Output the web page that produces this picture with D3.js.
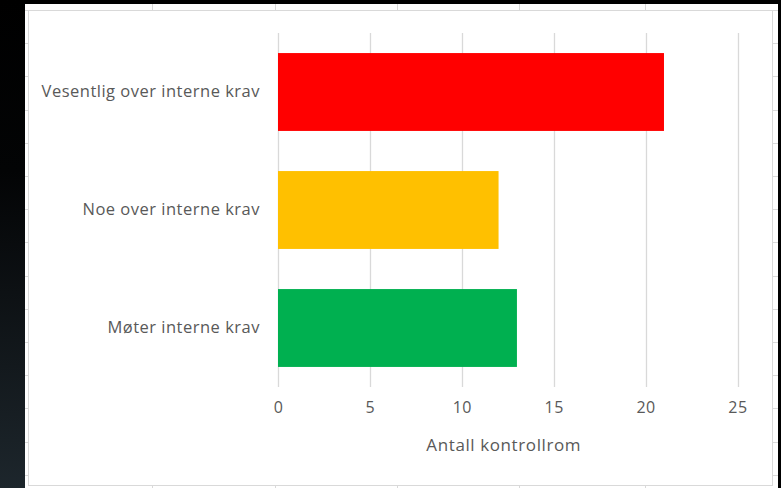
<!DOCTYPE html>
<html>
<head>
<meta charset="utf-8">
<script src="https://cdn.jsdelivr.net/npm/d3@7"></script>
<style>
  html, body { margin: 0; padding: 0; background: #000; }
  svg { display: block; }
  text { font-family: "Open Sans", sans-serif; fill: #595959; }
</style>
</head>
<body>
<div id="chart"></div>
<script>
// kategorier (ovenfra og ned) og antall kontrollrom
var categories = ['Vesentlig over interne krav', 'Noe over interne krav', 'Møter interne krav'];
var values = [21, 12, 13];
var barColors = ['#ff0000', '#ffc000', '#00b050'];
var xTicks = [0, 5, 10, 15, 20, 25];
var xTitle = 'Antall kontrollrom';

var width = 781,
    height = 488;

var svg = d3.select('#chart').append('svg')
    .attr('width', width)
    .attr('height', height);

// mørk bakgrunn med gradient på venstre side
var defs = svg.append('defs');
var grad = defs.append('linearGradient')
    .attr('id', 'bg_grad')
    .attr('x1', 0).attr('y1', 0).attr('x2', 0).attr('y2', 1);
grad.append('stop').attr('offset', '0%').attr('stop-color', '#000000');
grad.append('stop').attr('offset', '35%').attr('stop-color', '#030405');
grad.append('stop').attr('offset', '100%').attr('stop-color', '#1d262c');

svg.append('rect').attr('width', width).attr('height', height).attr('fill', '#000');
svg.append('rect').attr('x', 0).attr('y', 0).attr('width', 25).attr('height', height)
    .attr('fill', 'url(#bg_grad)');

// regneark-flaten bak diagrammet
svg.append('rect')
    .attr('x', 25).attr('y', 4)
    .attr('width', 753).attr('height', height - 4)
    .attr('fill', '#fff');

var cellG = svg.append('g').attr('stroke', '#d9d9d9').attr('stroke-width', 1);
var rowLines = d3.range(10, height, 33.2);
cellG.selectAll('line.rl').data(rowLines).enter().append('line')
    .attr('x1', 25).attr('x2', 28)
    .attr('y1', function(d) { return Math.round(d) + 0.5; })
    .attr('y2', function(d) { return Math.round(d) + 0.5; });
cellG.selectAll('line.rr').data(rowLines).enter().append('line')
    .attr('x1', 772).attr('x2', 778)
    .attr('y1', function(d) { return Math.round(d) + 0.5; })
    .attr('y2', function(d) { return Math.round(d) + 0.5; });
var colLines = [152, 275, 397, 519, 645];
cellG.selectAll('line.ct').data(colLines).enter().append('line')
    .attr('x1', function(d) { return d + 0.5; })
    .attr('x2', function(d) { return d + 0.5; })
    .attr('y1', 4).attr('y2', 10);
cellG.selectAll('line.cb').data(colLines).enter().append('line')
    .attr('x1', function(d) { return d + 0.5; })
    .attr('x2', function(d) { return d + 0.5; })
    .attr('y1', 486).attr('y2', 488);

// diagramramme
svg.append('rect')
    .attr('x', 28.5).attr('y', 10.5)
    .attr('width', 744).attr('height', 475)
    .attr('fill', '#fff')
    .attr('stroke', '#d9d9d9');

// skalaer
var x = d3.scaleLinear()
    .domain([0, 25])
    .range([278, 737.5]);

var y = d3.scaleBand()
    .domain(categories)
    .range([33, 387])
    .paddingInner(0.34)
    .paddingOuter(0.17);

// rutenett
var grid = svg.append('g').attr('class', 'grid');
grid.selectAll('line').data(xTicks).enter().append('line')
    .attr('x1', function(d) { return Math.round(x(d)) + 0.5; })
    .attr('x2', function(d) { return Math.round(x(d)) + 0.5; })
    .attr('y1', 33).attr('y2', 387)
    .attr('stroke', '#d9d9d9')
    .attr('stroke-width', 1.3);

// søyler
svg.append('g').selectAll('rect').data(values).enter().append('rect')
    .attr('x', x(0))
    .attr('y', function(d, i) { return y(categories[i]); })
    .attr('width', function(d) { return x(d) - x(0); })
    .attr('height', y.bandwidth())
    .attr('fill', function(d, i) { return barColors[i]; });

// x-akse tall
var xAxis = d3.axisBottom(x).tickValues(xTicks).tickSize(0).tickPadding(0);
var xg = svg.append('g')
    .attr('transform', 'translate(0,' + 402 + ')')
    .call(xAxis);
xg.select('.domain').remove();
xg.selectAll('text')
    .attr('dy', '0.71em')
    .style('font-size', '16px')
    .style('letter-spacing', '0.5px')
    .style('fill', '#595959')
    .style('font-family', '"Open Sans", sans-serif');

// y-akse kategorier
var yAxis = d3.axisLeft(y).tickSize(0).tickPadding(0);
var yg = svg.append('g')
    .attr('transform', 'translate(260,0)')
    .call(yAxis);
yg.select('.domain').remove();
yg.selectAll('text')
    .style('font-size', '16.5px')
    .style('letter-spacing', '0.5px')
    .style('fill', '#595959')
    .style('font-family', '"Open Sans", sans-serif');

// aksetittel
svg.append('text')
    .attr('x', (x(0) + x(25)) / 2 - 4)
    .attr('y', 451)
    .attr('text-anchor', 'middle')
    .style('font-size', '17px')
    .style('letter-spacing', '0.6px')
    .text(xTitle);
</script>
</body>
</html>
